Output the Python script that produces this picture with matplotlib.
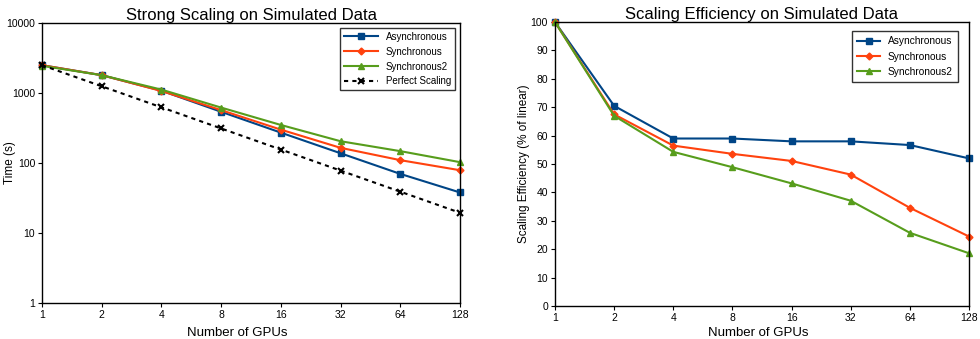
import matplotlib
matplotlib.use("Agg")
import matplotlib.pyplot as plt
from matplotlib.ticker import FixedLocator, NullLocator

plt.rcParams['font.family'] = ['Liberation Sans', 'DejaVu Sans']

gpus = [1, 2, 4, 8, 16, 32, 64, 128]
gpu_labels = ['1', '2', '4', '8', '16', '32', '64', '128']

# strong scaling, time in seconds
time_async = [2500, 1800, 1080, 540, 272, 138, 70, 38]
time_sync = [2500, 1800, 1070, 570, 300, 165, 110, 79]
time_sync2 = [2450, 1800, 1120, 620, 350, 205, 148, 103]
time_perfect = [2500, 1250, 625, 312, 156, 78, 39, 19.5]

# scaling efficiency, % of linear
eff_async = [100, 70.5, 59, 59, 58, 58, 56.7, 52]
eff_sync = [100, 67.5, 56.5, 53.6, 51.1, 46.3, 34.6, 24.5]
eff_sync2 = [100, 67, 54.3, 48.9, 43.2, 37.1, 25.8, 18.6]

C_ASYNC = '#004586'
C_SYNC = '#ff420e'
C_SYNC2 = '#579d1c'

fig = plt.figure(figsize=(9.8, 3.39), dpi=100)
ax1 = fig.add_axes([0.0429, 0.106, 0.4265, 0.826])
ax2 = fig.add_axes([0.5663, 0.097, 0.4225, 0.838])

# left: strong scaling
ax1.plot(gpus, time_async, color=C_ASYNC, marker='s', markersize=5, linewidth=1.5, label='Asynchronous')
ax1.plot(gpus, time_sync, color=C_SYNC, marker='D', markersize=3.5, linewidth=1.5, label='Synchronous')
ax1.plot(gpus, time_sync2, color=C_SYNC2, marker='^', markersize=5, linewidth=1.5, label='Synchronous2')
ax1.plot(gpus, time_perfect, color='black', marker='x', markersize=5, markeredgewidth=1.5,
         linewidth=1.5, linestyle=(0, (2, 2)), label='Perfect Scaling')
ax1.set_xscale('log', base=2)
ax1.set_yscale('log')
ax1.set_xlim(1, 128)
ax1.set_ylim(1, 10000)
ax1.yaxis.set_major_locator(FixedLocator([1, 10, 100, 1000, 10000]))
ax1.yaxis.set_minor_locator(NullLocator())
ax1.set_yticklabels(['1', '10', '100', '1000', '10000'])
ax1.set_title('Strong Scaling on Simulated Data', fontsize=12, pad=2)
ax1.set_ylabel('Time (s)', fontsize=8.5)
ax1.yaxis.set_label_coords(-0.062, 0.5)
ax1.set_xlabel('Number of GPUs', fontsize=9.5)
ax1.xaxis.set_label_coords(0.468, -0.085)
ax1.legend(loc='upper right', fontsize=7, fancybox=False, edgecolor='#333333',
           framealpha=1, borderpad=0.4, handlelength=3.5, labelspacing=0.5)

# right: efficiency
ax2.plot(gpus, eff_async, color=C_ASYNC, marker='s', markersize=5, linewidth=1.5, label='Asynchronous')
ax2.plot(gpus, eff_sync, color=C_SYNC, marker='D', markersize=3.5, linewidth=1.5, label='Synchronous')
ax2.plot(gpus, eff_sync2, color=C_SYNC2, marker='^', markersize=5, linewidth=1.5, label='Synchronous2')
ax2.set_xscale('log', base=2)
ax2.set_xlim(1, 128)
ax2.set_ylim(0, 100)
ax2.set_yticks(range(0, 101, 10))
ax2.set_title('Scaling Efficiency on Simulated Data', fontsize=12, pad=1)
ax2.set_ylabel('Scaling Efficiency (% of linear)', fontsize=8.5)
ax2.yaxis.set_label_coords(-0.06, 0.5)
ax2.set_xlabel('Number of GPUs', fontsize=9.5)
ax2.xaxis.set_label_coords(0.49, -0.075)
ax2.legend(loc='upper right', fontsize=7.3, fancybox=False, edgecolor='#333333',
           framealpha=1, borderpad=0.5, handlelength=2.2, labelspacing=0.5,
           bbox_to_anchor=(0.985, 0.985))

for ax in (ax1, ax2):
    ax.xaxis.set_major_locator(FixedLocator(gpus))
    ax.xaxis.set_minor_locator(NullLocator())
    ax.set_xticklabels(gpu_labels)
    ax.tick_params(axis='both', labelsize=7.5, length=3, width=0.8, pad=2, direction='out')
    for s in ax.spines.values():
        s.set_linewidth(1.0)
    for line in ax.get_lines():
        line.set_clip_on(False)

fig.savefig('out.png', dpi=100)
